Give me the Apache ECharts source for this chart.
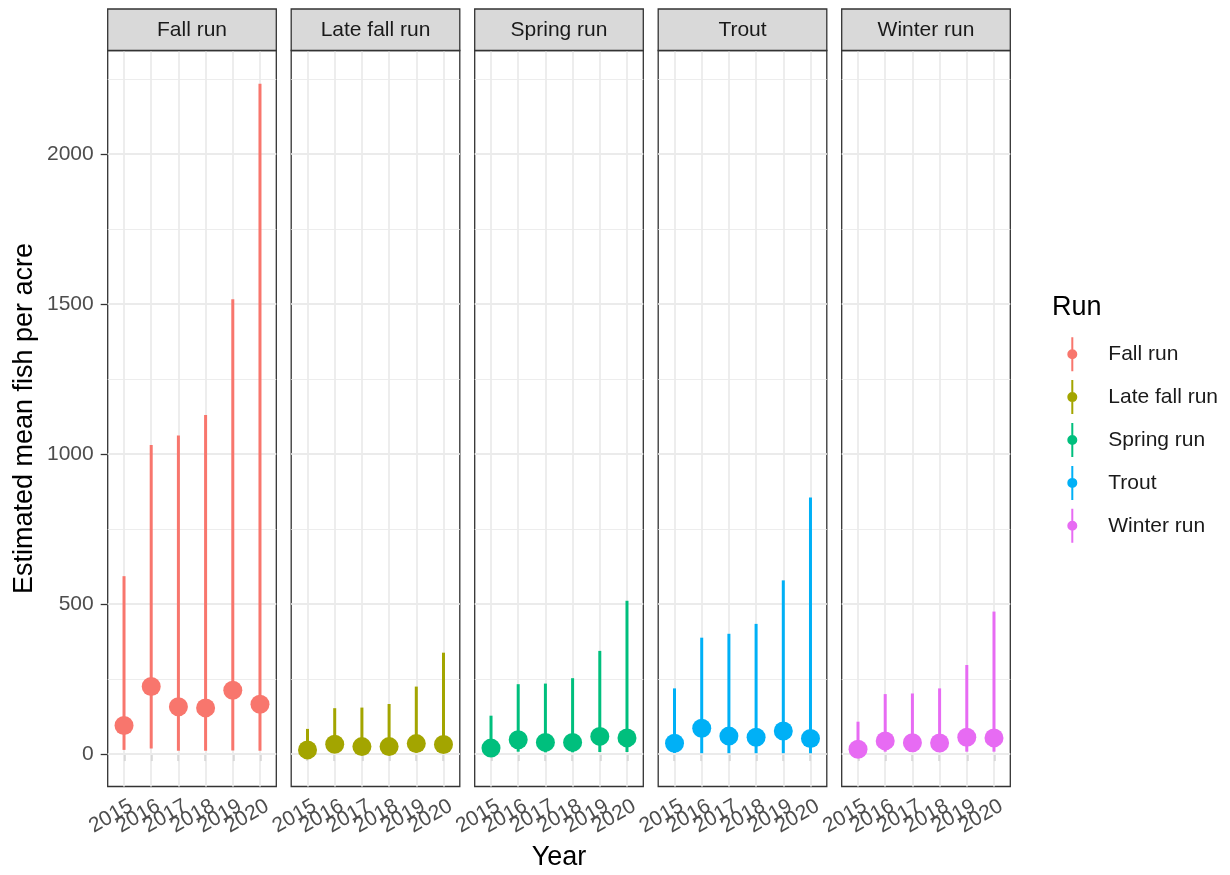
<!DOCTYPE html>
<html>
<head>
<meta charset="utf-8">
<title>Estimated mean fish per acre by run</title>
<script src="https://cdn.jsdelivr.net/npm/echarts@6/dist/echarts.min.js"></script>
<style>
  html, body { margin: 0; padding: 0; background: #fff; }
  #chart { width: 1230px; height: 875px; }
</style>
</head>
<body>
<div id="chart"></div>
<script>
// ---- data ----
const years = [2015, 2016, 2017, 2018, 2019, 2020];
const runs = ['Fall run', 'Late fall run', 'Spring run', 'Trout', 'Winter run'];
const yTickValues = [0, 500, 1000, 1500, 2000];
const yMinorValues = [250, 750, 1250, 1750, 2250];

// estimated mean, lower and upper bound of each run per year
const fallMean = [95, 225, 158, 154, 213, 166];
const fallLow = [14, 19, 11, 11, 12, 11];
const fallHigh = [593, 1030, 1062, 1130, 1516, 2234];

const lateFallMean = [14, 33, 25, 25, 35, 32];
const lateFallLow = [4, 5, 4, 4, 5, 5];
const lateFallHigh = [84, 153, 155, 167, 225, 338];

const springMean = [20, 48, 39, 39, 59, 54];
const springLow = [5, 8, 6, 6, 7, 7];
const springHigh = [128, 233, 235, 253, 344, 511];

const troutMean = [36, 86, 60, 56, 77, 52];
const troutLow = [4, 3, 3, 3, 3, 3];
const troutHigh = [219, 388, 401, 434, 579, 855];

const winterMean = [16, 44, 38, 37, 56, 54];
const winterLow = [3, 8, 7, 7, 8, 8];
const winterHigh = [108, 200, 202, 219, 297, 475];

const runMeans = [fallMean, lateFallMean, springMean, troutMean, winterMean];
const runLows = [fallLow, lateFallLow, springLow, troutLow, winterLow];
const runHighs = [fallHigh, lateFallHigh, springHigh, troutHigh, winterHigh];

// ---- styling / layout ----
const palette = ['#F8766D', '#A3A500', '#00BF7D', '#00B0F6', '#E76BF3'];
const FONT = '"Liberation Sans", Arial, Helvetica, sans-serif';
const panelLeft0 = 107.7;
const panelStep = 183.5;
const panelWidth = 168.6;
const panelTop = 50.5;
const panelHeight = 736;
const stripTop = 9;
const yMin = -108, yMax = 2345;
const xPad = 0.6;                       // discrete-axis padding on each side, in category units
const xMin = years[0] - xPad, xMax = years[years.length - 1] + xPad;
const yearLabelShift = 2;               // nudge of the rotated year labels to the right
const gridColor = '#EBEBEB';
const borderColor = '#333333';
const nPanels = runs.length;

// legend key: vertical range line with a dot in the middle
const keyIcon = 'path://M5,0h2v34h-2z M1,17a5,5 0 1,1 10,0a5,5 0 1,1 -10,0z';

const grids = [], xAxes = [], yAxes = [], series = [], graphics = [];

runs.forEach((run, i) => {
  const left = panelLeft0 + i * panelStep;
  grids.push({
    left: left, top: panelTop, width: panelWidth, height: panelHeight,
    show: true, backgroundColor: '#fff', borderColor: borderColor, borderWidth: 1.3,
    containLabel: false
  });
  xAxes.push({
    gridIndex: i, type: 'value', min: xMin, max: xMax,
    axisLine: { show: false },
    axisTick: { show: true, length: 7, lineStyle: { color: borderColor, width: 1.3 }, customValues: years },
    axisLabel: { show: false },
    splitLine: { show: false }
  });
  yAxes.push({
    gridIndex: i, type: 'value', min: yMin, max: yMax,
    axisLine: { show: false },
    axisTick: { show: i === 0, length: 7, lineStyle: { color: borderColor, width: 1.3 }, customValues: yTickValues },
    axisLabel: {
      show: i === 0, customValues: yTickValues, fontSize: 21, color: '#4D4D4D',
      fontFamily: FONT, margin: 14, formatter: v => String(v)
    },
    splitLine: { show: false }
  });

  // panel grid lines
  const gridLines = [];
  yMinorValues.forEach(v => gridLines.push({ yAxis: v, lineStyle: { color: gridColor, width: 0.9, type: 'solid' } }));
  yTickValues.forEach(v => gridLines.push({ yAxis: v, lineStyle: { color: gridColor, width: 1.8, type: 'solid' } }));
  years.forEach(v => gridLines.push({ xAxis: v, lineStyle: { color: gridColor, width: 1.8, type: 'solid' } }));
  series.push({
    type: 'line', xAxisIndex: i, yAxisIndex: i, data: [], silent: true, z: 1,
    markLine: {
      z: 1, silent: true, animation: false, symbol: ['none', 'none'],
      label: { show: false }, emphasis: { disabled: true },
      data: gridLines
    }
  });

  // range lines
  series.push({
    name: run, type: 'custom', xAxisIndex: i, yAxisIndex: i, z: 3,
    encode: { x: 0, y: [1, 2] },
    data: years.map((y, k) => [y, runLows[i][k], runHighs[i][k]]),
    itemStyle: { color: palette[i] },
    renderItem: (params, api) => {
      const p1 = api.coord([api.value(0), api.value(1)]);
      const p2 = api.coord([api.value(0), api.value(2)]);
      return {
        type: 'line',
        shape: { x1: p1[0], y1: p1[1], x2: p2[0], y2: p2[1] },
        style: { stroke: palette[i], lineWidth: 3 }
      };
    }
  });

  // mean points
  series.push({
    name: run, type: 'scatter', xAxisIndex: i, yAxisIndex: i, z: 4,
    symbol: 'circle', symbolSize: 19,
    itemStyle: { color: palette[i], opacity: 1 },
    data: years.map((y, k) => [y, runMeans[i][k]])
  });

  // facet strip
  graphics.push({
    type: 'rect', silent: true, z: 10,
    shape: { x: left, y: stripTop, width: panelWidth, height: panelTop - stripTop },
    style: { fill: '#D9D9D9', stroke: borderColor, lineWidth: 1.3 }
  });
  graphics.push({
    type: 'text', silent: true, z: 11,
    x: left + panelWidth / 2, y: (stripTop + panelTop) / 2,
    style: { text: run, fill: '#1A1A1A', font: '21px ' + FONT, textAlign: 'center', textVerticalAlign: 'middle' }
  });
});

// year labels: a category axis laid over each panel so every (overlapping) label is kept
runs.forEach((run, i) => {
  const bandWidth = panelWidth / (years.length - 1 + 2 * xPad);
  const left = panelLeft0 + i * panelStep + (xPad - 0.5) * bandWidth + yearLabelShift;
  grids.push({
    left: left, top: panelTop, width: bandWidth * years.length, height: panelHeight,
    show: false, containLabel: false
  });
  xAxes.push({
    gridIndex: nPanels + i, type: 'category', data: years.map(String), boundaryGap: true,
    axisLine: { show: false }, axisTick: { show: false }, splitLine: { show: false },
    axisLabel: {
      interval: 0, rotate: 30, fontSize: 21, color: '#4D4D4D', fontFamily: FONT,
      margin: 9, verticalAlign: 'top'
    }
  });
  yAxes.push({ gridIndex: nPanels + i, type: 'value', show: false, min: yMin, max: yMax });
});

// axis titles and legend title
graphics.push({
  type: 'text', silent: true, x: panelLeft0 + (4 * panelStep + panelWidth) / 2, y: 858,
  style: { text: 'Year', fill: '#000', font: '27px ' + FONT, textAlign: 'center', textVerticalAlign: 'middle' }
});
graphics.push({
  type: 'text', silent: true, x: 24.6, y: panelTop + panelHeight / 2, rotation: Math.PI / 2,
  style: { text: 'Estimated mean fish per acre', fill: '#000', font: '27px ' + FONT, textAlign: 'center', textVerticalAlign: 'middle' }
});
graphics.push({
  type: 'text', silent: true, x: 1052, y: 308,
  style: { text: 'Run', fill: '#000', font: '27px ' + FONT, textAlign: 'left', textVerticalAlign: 'middle' }
});

const chart = echarts.init(document.getElementById('chart'), null, { renderer: 'canvas' });
chart.setOption({
  animation: false,
  backgroundColor: '#fff',
  grid: grids,
  xAxis: xAxes,
  yAxis: yAxes,
  legend: {
    orient: 'vertical', left: 1067.3, top: 337.2, padding: 0,
    itemWidth: 10, itemHeight: 34, itemGap: 8.9,
    selectedMode: false,
    textStyle: { fontSize: 21, color: '#1A1A1A', fontFamily: FONT, padding: [0, 0, 0, 26] },
    data: runs.map(name => ({ name: name, icon: keyIcon }))
  },
  graphic: graphics,
  series: series
});
</script>
</body>
</html>
